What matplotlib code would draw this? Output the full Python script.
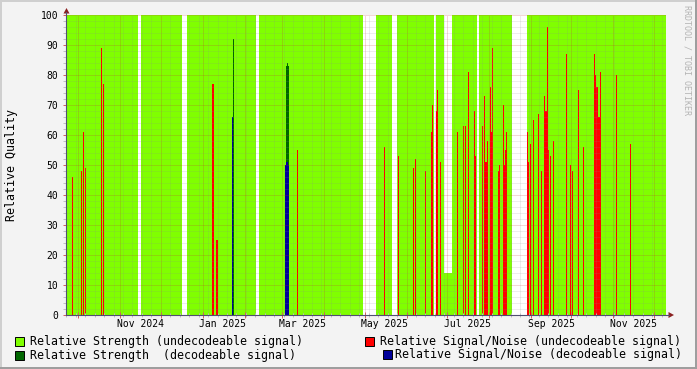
import numpy as np
import pandas as pd
import matplotlib
matplotlib.use('Agg')
import matplotlib.pyplot as plt
import matplotlib.dates as mdates
from matplotlib.ticker import MultipleLocator, NullFormatter
from matplotlib.lines import Line2D
from matplotlib.patches import Polygon, Rectangle

# Relative Strength (undecodeable signal): coverage periods and level
seg_start = ['2024-09-21 19:00', '2024-11-16 13:00', '2024-12-20 10:00', '2025-02-11 18:00',
             '2025-05-09 10:00', '2025-05-24 23:00', '2025-06-22 20:00', '2025-06-28 19:00',
             '2025-07-04 12:00', '2025-07-24 17:00', '2025-08-29 01:00']
seg_end = ['2024-11-14 08:00', '2024-12-16 11:00', '2025-02-09 12:00', '2025-04-30 00:00',
           '2025-05-21 06:00', '2025-06-21 09:00', '2025-06-28 19:00', '2025-07-04 12:00',
           '2025-07-23 11:00', '2025-08-18 04:00', '2025-12-10 00:00']
seg_level = [100, 100, 100, 100, 100, 100, 100, 14, 100, 100, 100]

# Relative Signal/Noise (undecodeable signal)
red_times = ['2024-09-26 10:00', '2024-10-03 03:00', '2024-10-04 14:00', '2024-10-06 02:00',
             '2024-10-18 10:00', '2024-10-19 05:00', '2025-01-08 16:00', '2025-01-11 15:00',
             '2025-03-12 02:00', '2025-05-15 13:00', '2025-05-25 22:00', '2025-06-06 01:00',
             '2025-06-07 12:00', '2025-06-14 22:00', '2025-06-19 09:00', '2025-06-20 03:00',
             '2025-06-23 02:00', '2025-06-23 19:00', '2025-06-26 01:00', '2025-07-08 15:00',
             '2025-07-13 02:00', '2025-07-14 13:00', '2025-07-16 19:00', '2025-07-21 05:00',
             '2025-07-21 23:00', '2025-07-27 04:00', '2025-07-28 15:00', '2025-07-29 09:00',
             '2025-07-30 02:00', '2025-07-30 20:00', '2025-08-02 02:00', '2025-08-02 19:00',
             '2025-08-03 13:00', '2025-08-08 00:00', '2025-08-08 18:00', '2025-08-11 17:00',
             '2025-08-12 11:00', '2025-08-13 05:00', '2025-08-13 22:00', '2025-08-29 12:00',
             '2025-08-30 05:00', '2025-08-31 17:00', '2025-09-02 22:00', '2025-09-06 15:00',
             '2025-09-08 20:00', '2025-09-11 02:00', '2025-09-11 19:00', '2025-09-12 13:00',
             '2025-09-13 07:00', '2025-09-14 01:00', '2025-09-15 12:00', '2025-09-17 18:00',
             '2025-09-27 09:00', '2025-09-30 08:00', '2025-10-01 19:00', '2025-10-06 06:00',
             '2025-10-09 23:00', '2025-10-18 03:00', '2025-10-18 20:00', '2025-10-19 14:00',
             '2025-10-20 08:00', '2025-10-21 02:00', '2025-10-21 19:00', '2025-10-22 13:00',
             '2025-11-03 10:00', '2025-11-13 19:00']
red_vals = [46, 48, 61, 49,
            89, 77, 77, 25,
            55, 56, 53, 49,
            52, 48, 61, 70,
            68, 75, 51, 61,
            63, 63, 81, 68,
            53, 63, 73, 51,
            51, 58, 76, 61,
            89, 48, 50, 70,
            50, 55, 61, 61,
            51, 57, 65, 67,
            48, 73, 68, 68,
            96, 55, 53, 58,
            87, 50, 48, 75,
            56, 87, 80, 76,
            76, 66, 66, 81,
            80, 57]

# Relative Strength (decodeable signal)
dkg_times = ['2025-01-23 17:00', '2025-03-03 18:00', '2025-03-04 12:00', '2025-03-05 05:00']
dkg_vals = [92, 83, 84, 83]

# Relative Signal/Noise (decodeable signal)
blue_times = ['2025-01-22 23:00', '2025-03-03 00:00', '2025-03-03 18:00', '2025-03-04 12:00',
              '2025-03-05 05:00']
blue_vals = [66, 50, 51, 51, 50]

label_dates = ['2024-11-16', '2025-01-16', '2025-03-16', '2025-05-16', '2025-07-16',
               '2025-09-16', '2025-11-16']
label_text = ['Nov 2024', 'Jan 2025', 'Mar 2025', 'May 2025', 'Jul 2025', 'Sep 2025', 'Nov 2025']

legend_text = ['Relative Strength (undecodeable signal)',
               'Relative Signal/Noise (undecodeable signal)',
               'Relative Strength  (decodeable signal)',
               'Relative Signal/Noise (decodeable signal)']

GREEN = '#80ff00'
RED = '#ff0000'
DKGREEN = '#006600'
BLUE = '#000099'
MONO = 'DejaVu Sans Mono'

W, H = 697, 369


def fx(x):
    return x / W


def fy(y):
    return 1 - y / H


def dn(v):
    return mdates.date2num(pd.to_datetime(v))


fig = plt.figure(figsize=(W / 100, H / 100), dpi=100, facecolor='#f3f3f3')
ax = fig.add_axes([fx(66), fy(315), 600 / W, 300 / H])
ax.set_facecolor('white')

left = dn(seg_start)
ax.bar(left, seg_level, width=dn(seg_end) - left, align='edge', color=GREEN,
       linewidth=0, antialiased=False, zorder=1)
bar_w = 0.75
ax.bar(dn(red_times), red_vals, width=bar_w, color=RED, linewidth=0, antialiased=False, zorder=1.2)
ax.bar(dn(dkg_times), dkg_vals, width=bar_w, color=DKGREEN, linewidth=0, antialiased=False, zorder=1.3)
ax.bar(dn(blue_times), blue_vals, width=bar_w, color=BLUE, linewidth=0, antialiased=False, zorder=1.4)

ax.xaxis_date()
ax.set_xlim(dn('2024-09-21 19:00'), dn('2025-12-10 04:00'))
ax.set_ylim(0, 100)

ax.xaxis.set_major_locator(mdates.MonthLocator())
ax.xaxis.set_minor_locator(mdates.WeekdayLocator(byweekday=mdates.SU))
ax.xaxis.set_major_formatter(NullFormatter())
ax.xaxis.set_minor_formatter(NullFormatter())
ax.yaxis.set_major_locator(MultipleLocator(10))
ax.yaxis.set_minor_locator(MultipleLocator(2))

ax.set_axisbelow(False)
ax.grid(which='minor', color='#8c8c8c', alpha=0.3, linestyle=(0, (1, 1)), linewidth=0.72)
ax.grid(which='major', color='#c83030', alpha=0.38, linestyle=(0, (1, 1)), linewidth=0.72)

for s in ax.spines.values():
    s.set_visible(False)

ax.tick_params(axis='x', which='major', direction='inout', length=4, width=0.72, color='#d06060')
ax.tick_params(axis='x', which='minor', direction='inout', length=3, width=0.72, color='#c0c0c0')
ax.tick_params(axis='y', which='major', direction='out', length=2, width=0.72, color='#d06060',
               pad=3.4, labelsize=7)
ax.tick_params(axis='y', which='minor', direction='out', length=2, width=0.72, color='#c0c0c0')
for lab in ax.get_yticklabels():
    lab.set_family(MONO)

for d, t in zip(label_dates, label_text):
    ax.text(dn(d), -0.03, t, transform=ax.get_xaxis_transform(), ha='center', va='center',
            fontsize=7, family=MONO, color='black')

# axes lines with arrows
axis_col = '#505070'
fig.add_artist(Line2D([fx(66), fx(66)], [fy(315), fy(12)], color=axis_col, lw=0.8))
fig.add_artist(Line2D([fx(66), fx(669)], [fy(315), fy(315)], color=axis_col, lw=0.8))
fig.add_artist(Polygon([[fx(66.5), fy(8)], [fx(63.5), fy(13.5)], [fx(69.5), fy(13.5)]],
                       closed=True, color='#8b2020', lw=0))
fig.add_artist(Polygon([[fx(674), fy(315)], [fx(668.5), fy(312)], [fx(668.5), fy(318)]],
                       closed=True, color='#8b2020', lw=0))

fig.text(fx(12), fy(165), 'Relative Quality', rotation=90, ha='center', va='center',
         fontsize=8.4, family=MONO)
fig.text(fx(687.5), fy(5), 'RRDTOOL / TOBI OETIKER', rotation=270, ha='center', va='top',
         fontsize=6, family=MONO, color='#b4b4b4')

# legend
boxes = [(15, 336.7, GREEN), (365, 336.7, RED), (15, 350.7, DKGREEN), (382.7, 350.2, BLUE)]
text_x = [30, 380, 30, 395.5]
for (bx, by, c), tx, t in zip(boxes, text_x, legend_text):
    fig.add_artist(Rectangle((fx(bx), fy(by + 9)), 9 / W, 9 / H, facecolor=c,
                             edgecolor='black', lw=0.7))
    fig.text(fx(tx), fy(by + 4.5), t, ha='left', va='center', fontsize=8.35, family=MONO)

# frame shading
fig.add_artist(Rectangle((0, fy(2)), 1, 2 / H, facecolor='#cfcfcf', lw=0))
fig.add_artist(Rectangle((0, 0), 2 / W, 1, facecolor='#cfcfcf', lw=0))
fig.add_artist(Rectangle((0, 0), 1, 2 / H, facecolor='#9e9e9e', lw=0))
fig.add_artist(Rectangle((fx(695), 0), 2 / W, 1, facecolor='#9e9e9e', lw=0))

fig.savefig('out.png', dpi=100, facecolor=fig.get_facecolor())
